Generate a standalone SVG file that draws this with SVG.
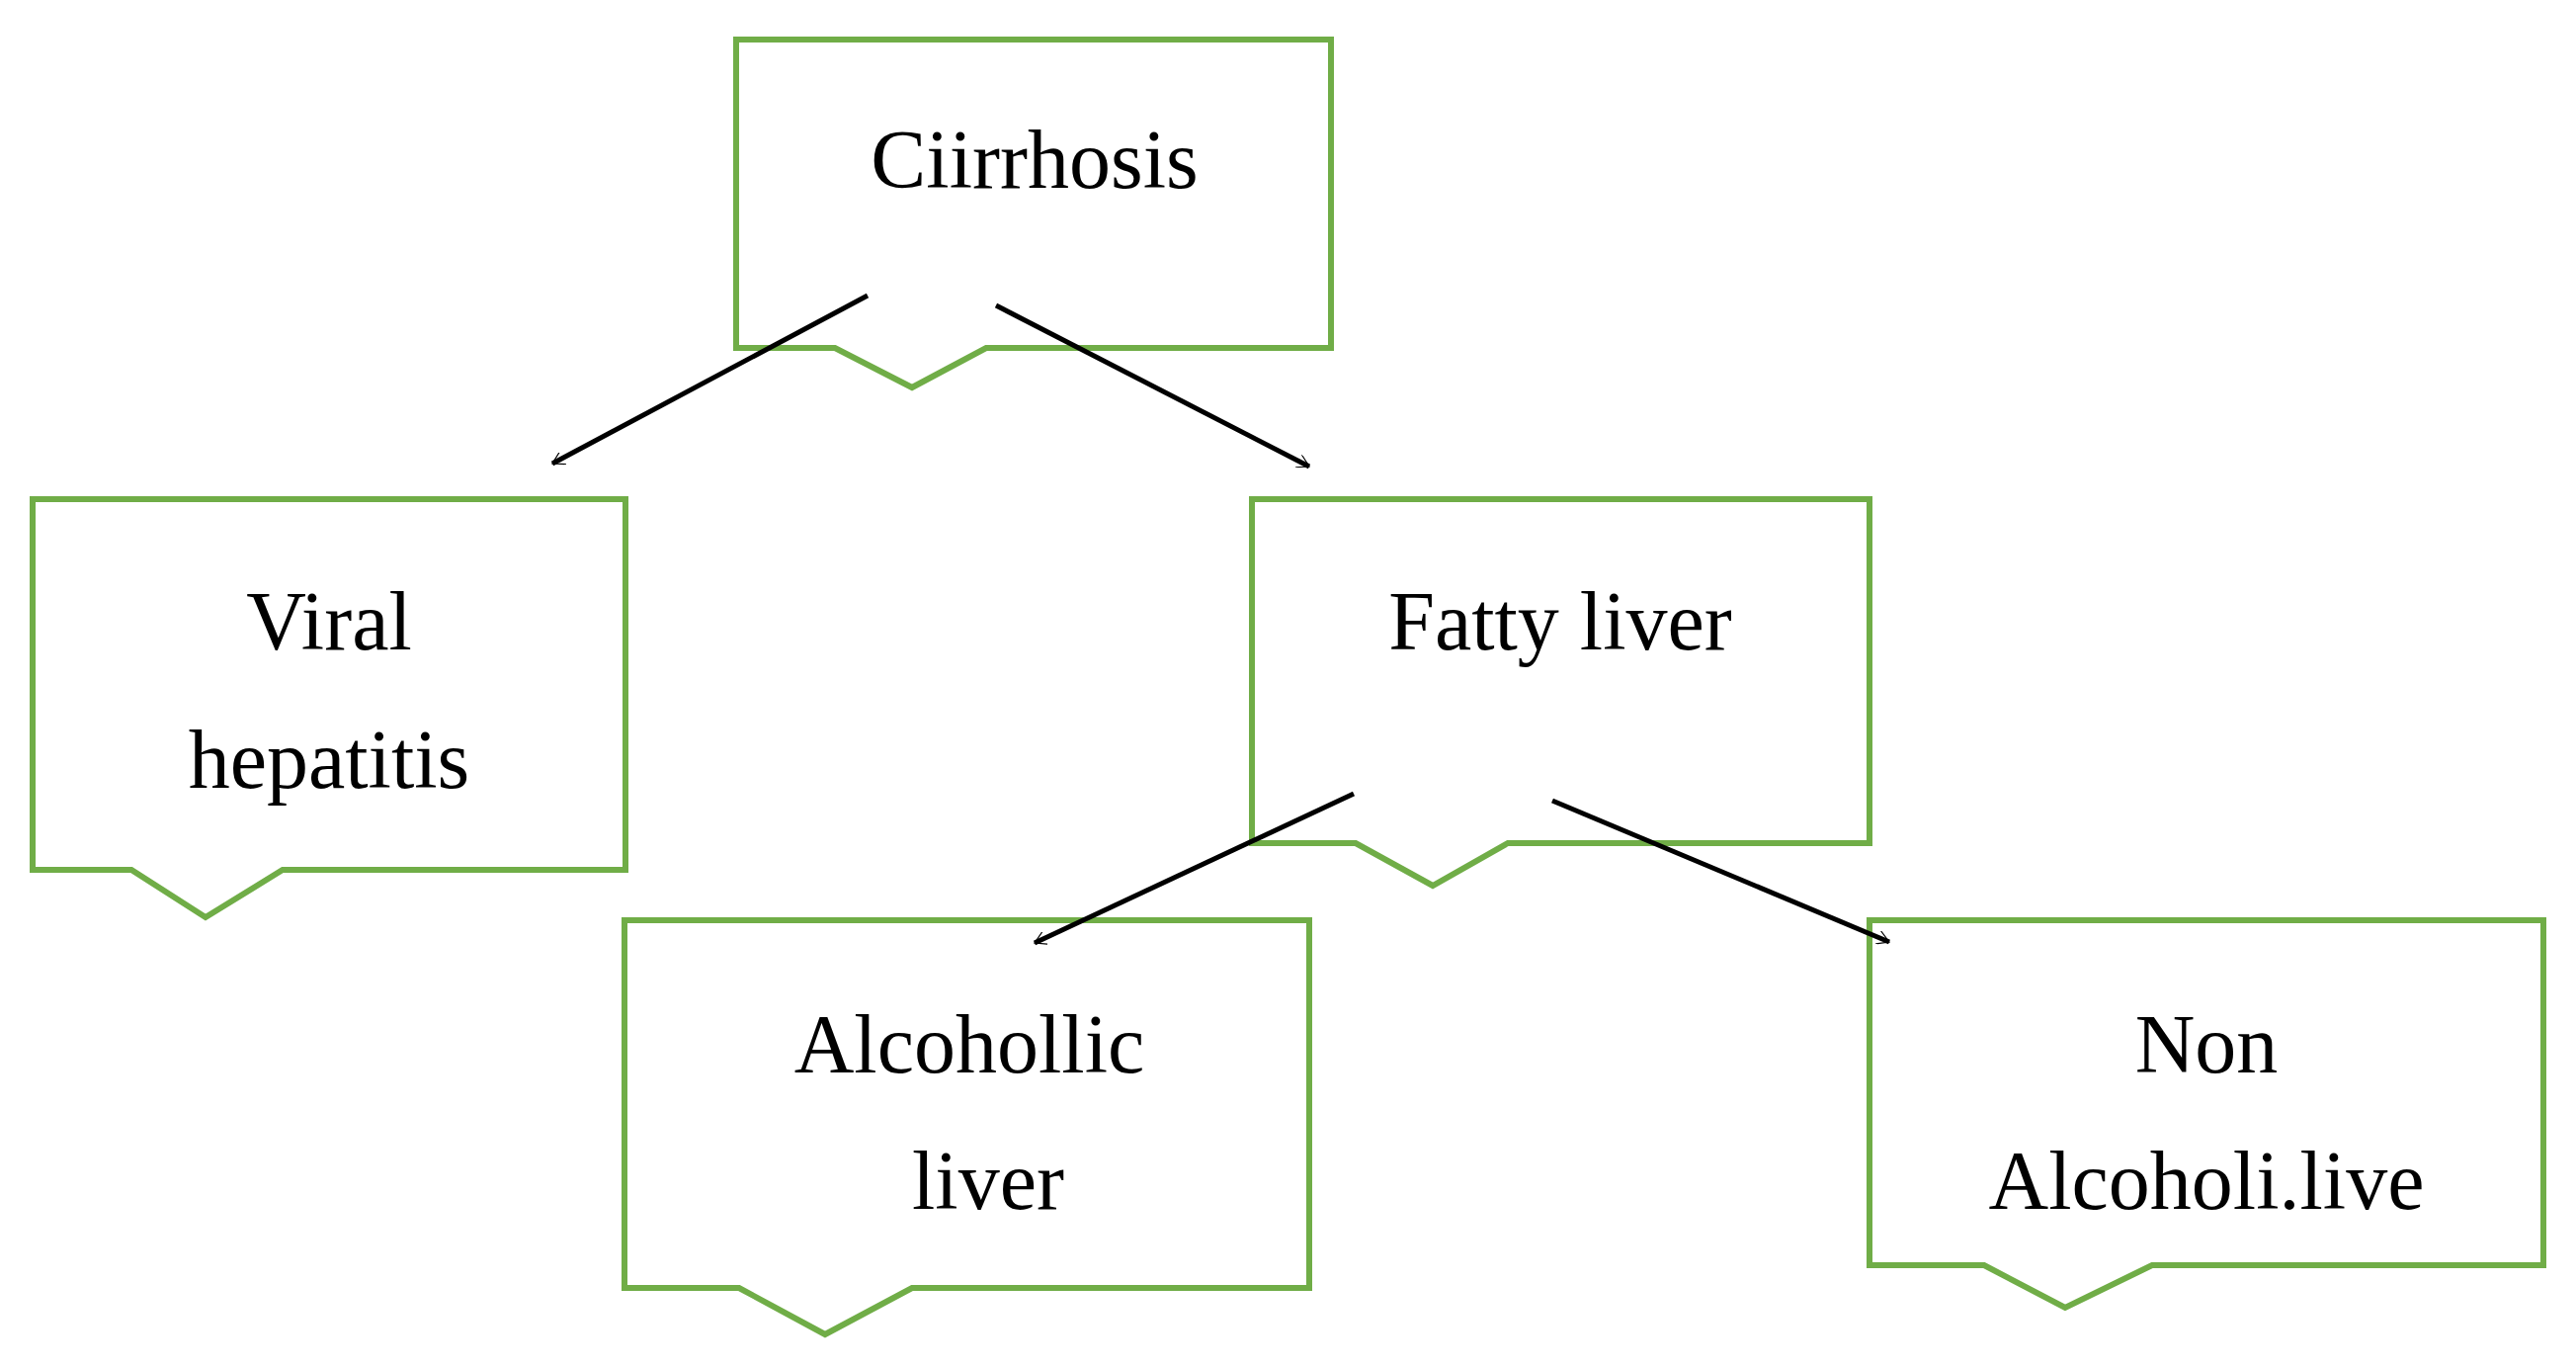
<svg xmlns="http://www.w3.org/2000/svg" width="2607" height="1384" viewBox="0 0 2607 1384">
<style>
.b{fill:#fff;stroke:#70AD47;stroke-width:6}
.t{font-family:"Liberation Serif",serif;font-size:84px;fill:#000;text-anchor:middle}
.c{stroke:#000;stroke-width:5;fill:none;marker-end:url(#a)}
</style>
<defs><marker id="a" markerWidth="14" markerHeight="14" refX="12" refY="7" orient="auto" markerUnits="userSpaceOnUse" viewBox="0 0 14 14"><path d="M0,0 L12,7 L0,14" fill="none" stroke="#000" stroke-width="1.2"/></marker></defs>
<rect width="2607" height="1384" fill="#fff"/>
<g id="n1"><path class="b" d="M745,40 H1347 V352 H998 L923,392 L845,352 H745 Z"/><text class="t" x="1047" y="190">Ciirrhosis</text></g>
<g id="n2"><path class="b" d="M33,505 H633 V880 H286 L208,928 L133,880 H33 Z"/><text class="t" x="333" y="657">Viral</text><text class="t" x="333" y="797">hepatitis</text></g>
<g id="n3"><path class="b" d="M1267,505 H1892 V853 H1526 L1450,896 L1372,853 H1267 Z"/><text class="t" x="1579" y="657">Fatty liver</text></g>
<g id="n4"><path class="b" d="M632,931 H1325 V1303 H923 L835,1350 L748,1303 H632 Z"/><text class="t" x="981" y="1085">Alcohollic</text><text class="t" x="1000" y="1223">liver</text></g>
<g id="n5"><path class="b" d="M1892,931 H2574 V1280 H2178 L2090,1323 L2008,1280 H1892 Z"/><text class="t" x="2233" y="1085">Non</text><text class="t" x="2233" y="1223">Alcoholi.live</text></g>
<g id="connectors">
<line class="c" x1="878" y1="299" x2="559" y2="469"/>
<line class="c" x1="1008" y1="309" x2="1325" y2="472"/>
<line class="c" x1="1370" y1="803" x2="1047" y2="954"/>
<line class="c" x1="1571" y1="810" x2="1912" y2="953"/>
</g>
</svg>
